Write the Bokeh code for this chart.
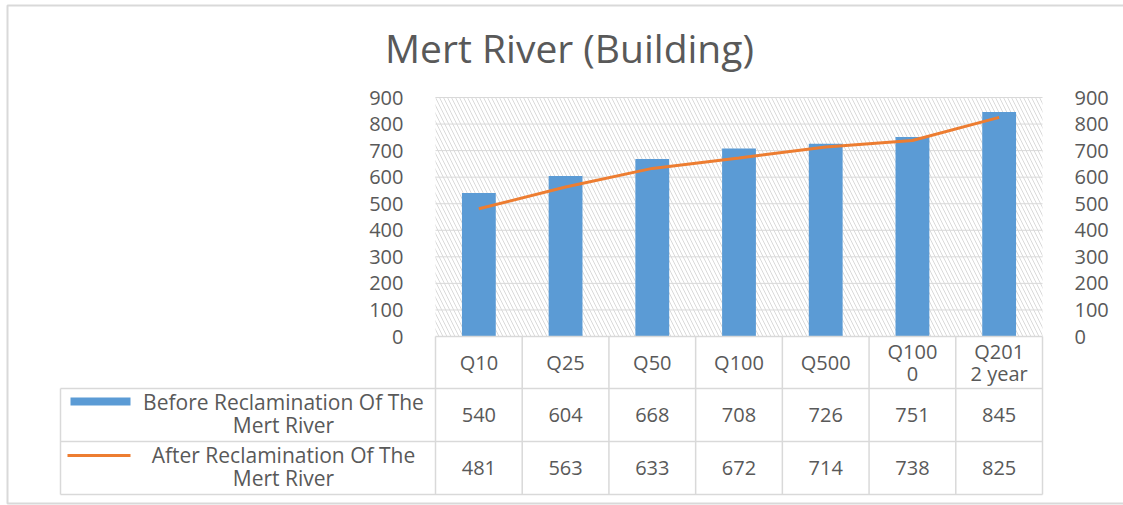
from bokeh.plotting import figure
from bokeh.models import Range1d, LinearAxis, FixedTicker
from bokeh.core.properties import value
from bokeh.embed import file_html
from bokeh.resources import INLINE

# ---------------- data ----------------
categories = ["Q10", "Q25", "Q50", "Q100", "Q500", "Q1000", "Q2012 year"]
cat_labels = ["Q10", "Q25", "Q50", "Q100", "Q500", "Q100\n0", "Q201\n2 year"]
before = [540, 604, 668, 708, 726, 751, 845]
after = [481, 563, 633, 672, 714, 738, 825]
series_names = ["Before Reclamination Of The\nMert River",
                "After Reclamination Of The\nMert River"]
y_ticks = [0, 100, 200, 300, 400, 500, 600, 700, 800, 900]
title_text = "Mert River (Building)"

# ---------------- layout ----------------
W, H = 1123, 505
PAGE = 0
PLOT_L, PLOT_R = 435, 1042          # page px of plot area
Y0_PX, Y900_PX = 336, 97            # page px of 0 and 900
n = len(categories)
cw = (PLOT_R - PLOT_L) / n
c0 = PLOT_L + cw / 2
ppu = (Y0_PX - Y900_PX) / 900.0


def ux(px):
    return (px - c0) / cw


def vy(py):
    return (Y0_PX - py) / ppu


TEXT = "#595959"
LINE = "#d9d9d9"
FONT = "Open Sans"

p = figure(width=W, height=H, output_backend="svg", toolbar_location=None,
           x_range=Range1d(ux(PAGE), ux(PAGE + W)),
           y_range=Range1d(vy(PAGE + H), vy(PAGE)),
           x_axis_location=None, y_axis_location=None,
           min_border=0, background_fill_color="white",
           border_fill_color="white")
p.grid.visible = False
p.outline_line_color = None

# chart border
p.quad(left=[ux(7)], right=[ux(1130)], top=[vy(5)], bottom=[vy(503)],
       fill_color=None, line_color=LINE, line_width=2)

xl, xr = -0.5, n - 0.5
ymax = y_ticks[-1]

# hatched plot area
p.quad(left=[xl], right=[xr], bottom=[0], top=[ymax], fill_color="white",
       line_color=None, hatch_pattern="\\", hatch_color="#dadada",
       hatch_scale=8, hatch_weight=1)

# gridlines
p.segment(x0=[xl] * (len(y_ticks) - 1), x1=[xr] * (len(y_ticks) - 1),
          y0=y_ticks[1:], y1=y_ticks[1:], line_color=LINE, line_width=1)

idx = list(range(n))
p.vbar(x=idx, top=before, width=0.39, fill_color="#5B9BD5", line_color=None)
p.line(x=idx, y=after, line_color="#ED7D31", line_width=3)

# axes
for side, loc in (("left", xl), ("right", xr)):
    ax = LinearAxis(fixed_location=loc, bounds=(0, ymax),
                    ticker=FixedTicker(ticks=y_ticks))
    ax.axis_line_color = None
    ax.major_tick_line_color = None
    ax.minor_tick_line_color = None
    ax.major_label_text_color = TEXT
    ax.major_label_text_font = FONT
    ax.major_label_text_font_size = "20px"
    ax.major_label_standoff = 26
    p.add_layout(ax, side)

# title
p.text(x=[ux(569)], y=[vy(47)], text=[title_text], text_align="center",
       text_baseline="middle", text_color=TEXT, text_font=value(FONT),
       text_font_size="39px")

# data table
r1, r2, r3 = vy(388), vy(441), vy(494)
leg_l = ux(60)
hx0 = [xl, leg_l, leg_l, leg_l]
hx1 = [xr, xr, xr, xr]
hy = [0, r1, r2, r3]
p.segment(x0=hx0, x1=hx1, y0=hy, y1=hy, line_color=LINE, line_width=1.5)
bounds_x = [i - 0.5 for i in range(n + 1)]
p.segment(x0=bounds_x, x1=bounds_x, y0=[0] * len(bounds_x),
          y1=[r3] * len(bounds_x), line_color=LINE, line_width=1.5)
p.segment(x0=[leg_l], x1=[leg_l], y0=[r1], y1=[r3], line_color=LINE,
          line_width=1.5)

p.text(x=idx, y=[vy(362)] * n, text=cat_labels, text_align="center",
       text_baseline="middle", text_color=TEXT, text_font=value(FONT),
       text_font_size="20px", text_line_height=0.8)
p.text(x=idx, y=[vy(414)] * n, text=[str(v) for v in before],
       text_align="center", text_baseline="middle", text_color=TEXT,
       text_font=value(FONT), text_font_size="20px")
p.text(x=idx, y=[vy(467)] * n, text=[str(v) for v in after],
       text_align="center", text_baseline="middle", text_color=TEXT,
       text_font=value(FONT), text_font_size="20px")

# legend keys in table
p.text(x=[ux(283), ux(283)], y=[vy(413), vy(466)], text=series_names,
       text_align="center", text_baseline="middle", text_color=TEXT,
       text_font=value(FONT), text_font_size="21px", text_line_height=0.82)
p.quad(left=[ux(70)], right=[ux(130)], top=[vy(397)], bottom=[vy(405)],
       fill_color="#5B9BD5", line_color=None)
p.segment(x0=[ux(67)], x1=[ux(130)], y0=[vy(455)], y1=[vy(455)],
          line_color="#ED7D31", line_width=3)

open("out.html", "w").write(file_html(p, INLINE))
